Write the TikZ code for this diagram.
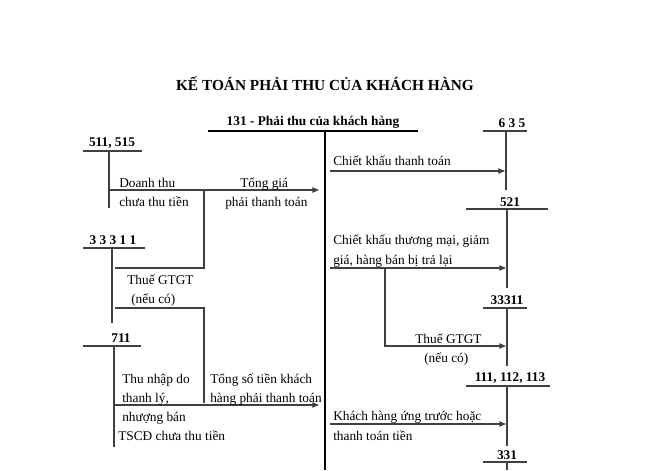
\documentclass[tikz,border=0pt]{standalone}
\usepackage{fontspec}
\setmainfont{Liberation Serif}
\usetikzlibrary{arrows.meta}
\begin{document}
\begin{tikzpicture}[x=0.75pt,y=-0.75pt,
  ln/.style={draw=black!75,line width=0.8pt},
  ar/.style={ln,-{Triangle[length=5pt,width=4pt]}},
  acc/.style={font=\fontsize{10}{12}\selectfont\bfseries,inner sep=0},
  t/.style={font=\fontsize{10}{12}\selectfont,inner sep=0,anchor=base west}]
\useasboundingbox (0,0) rectangle (648,470);
\node[font=\fontsize{11.5}{13}\selectfont\bfseries] (title) at (325,84) {KẾ TOÁN PHẢI THU CỦA KHÁCH HÀNG};
% 131
\node[acc] (a131) at (313,122) {131 - Phải thu của khách hàng};
\draw[line width=1pt] (208,131) -- (418,131);
\draw[line width=1pt] (325,131) -- (325,470);
% right accounts
\node[acc] (a635) at (512,123) {6 3 5};
\draw[ln] (483,131) -- (527,131) (506,131) -- (506,190);
\node[acc] (a521) at (510,202) {521};
\draw[ln] (466,209) -- (548,209) (507,209) -- (507,288);
\node[acc] (a33311r) at (507,300) {33311};
\draw[ln] (483,308) -- (527,308) (507,308) -- (507,366);
\node[acc] (a111) at (510,378) {111, 112, 113};
\draw[ln] (466,386) -- (550,386) (507,386) -- (507,446);
\node[acc] (a331) at (507,455) {331};
\draw[ln] (483,462) -- (527,462) (507,462) -- (507,470);
% right arrows
\draw[ar] (330,171) -- (505,171);
\node[t] at (333,166) {Chiết khấu thanh toán};
\node[t] at (333,244) {Chiết khấu thương mại, giảm};
\node[t] at (333,264) {giá, hàng bán bị trả lại};
\draw[ar] (330,268) -- (506,268);
\draw[ar] (385,268) -- (385,346) -- (506,346);
\node[t] at (415,343) {Thuế GTGT};
\node[t] at (424,362) {(nếu có)};
\node[t] at (333,420) {Khách hàng ứng trước hoặc};
\node[t] at (333,440) {thanh toán tiền};
\draw[ar] (330,424) -- (506,424);
% left accounts
\node[acc] (a511) at (112,143) {511, 515};
\draw[ln] (83,151) -- (142,151) (109,151) -- (109,208);
\node[acc] (a3331l) at (113,240) {3 3 3 1 1};
\draw[ln] (83,248) -- (145,248) (112,248) -- (112,323);
\node[acc] (a711) at (121,338) {711};
\draw[ln] (83,346) -- (141,346) (114,346) -- (114,447);
% left arrows
\draw[ar] (109,190) -- (319,190);
\draw[ln] (204,190) -- (204,268) -- (115,268);
\draw[ln] (115,308) -- (204,308) -- (204,403);
\draw[ar] (114,405) -- (319,405);
\node[t] at (119,187) {Doanh thu};
\node[t] at (119,206) {chưa thu tiền};
\node[t] at (240,187) {Tổng giá};
\node[t] at (225,206) {phải thanh toán};
\node[t] at (127,284) {Thuế GTGT};
\node[t] at (131,303) {(nếu có)};
\node[t] at (122,383) {Thu nhập do};
\node[t] at (122,402) {thanh lý,};
\node[t] at (122,421) {nhượng bán};
\node[t] at (118,440) {TSCĐ chưa thu tiền};
\node[t] at (210,383) {Tổng số tiền khách};
\node[t] at (210,402) {hàng phải thanh toán};
\end{tikzpicture}
\end{document}
